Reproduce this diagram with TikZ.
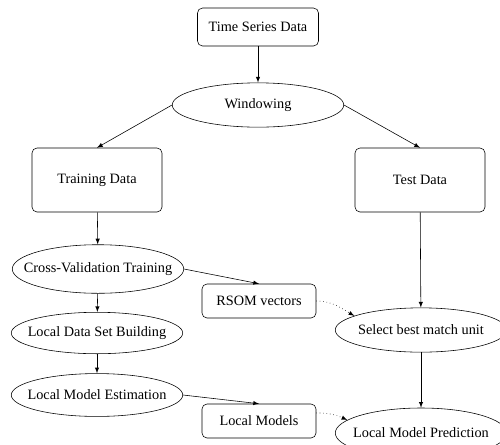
\documentclass[tikz,border=0pt]{standalone}
\usepackage{fontspec}
\setmainfont{Liberation Serif}
\usetikzlibrary{arrows}
\usetikzlibrary{shapes.geometric}

\begin{document}
\begin{tikzpicture}[x=0.7pt,y=-0.7pt,>=latex,
    data/.style={draw,rounded corners=3.5pt,inner sep=0pt},
    proc/.style={draw,ellipse,inner sep=0pt,minimum width=120pt,minimum height=31pt}]
    \clip (0,0) rectangle (500,444);
    \node[data,minimum width=84.7pt,minimum height=26.6pt] (tsd) at (258,27) {Time Series Data};
    \node[proc] (win) at (258,105) {\makebox[0pt]{Windowing}};
    \node[data,minimum width=91pt,minimum height=44.8pt] (train) at (97,180) {Training Data};
    \node[data,minimum width=91pt,minimum height=44.8pt] (test) at (420,180) {Test Data};
    \node[proc,minimum height=34pt] (cval) at (98,269) {\makebox[0pt]{Cross-Validation Training}};
    \node[proc,minimum height=29pt] (ldsb) at (97,333) {\makebox[0pt]{Local Data Set Building}};
    \node[proc,minimum height=30pt] (lme) at (97,395) {\makebox[0pt]{Local Model Estimation}};
    \node[data,minimum width=79.8pt,minimum height=23.8pt] (rsom) at (259,301) {RSOM vectors};
    \node[data,minimum width=79.8pt,minimum height=23.8pt] (lmod) at (259,421) {Local Models};
    \node[proc] (sel) at (421,330) {\makebox[0pt]{Select best match unit}};
    \node[proc,minimum height=35pt] (lmp) at (421,433) {\makebox[0pt]{Local Model Prediction}};
    % main flow
    \draw[->] (tsd) -- (win);
    \draw[->] (win.west) -- (train.north);
    \draw[->] (win.east) -- (test.north);
    \draw[->] (train) -- (cval);
    \draw[->] (cval) -- (ldsb);
    \draw[->] (ldsb) -- (lme);
    \draw[->] (cval.east) -- (rsom.north);
    \draw[->] (lme.east) -- (lmod.north);
    \draw[->] (test) -- (sel);
    \draw[->] (sel) -- (lmp);
    % model lookup
    \draw[->,dotted] (rsom.east) to[out=0,in=150] (sel.168);
    \draw[->,dotted] (lmod.8) to[out=0,in=155] (lmp.170);
\end{tikzpicture}
\end{document}
